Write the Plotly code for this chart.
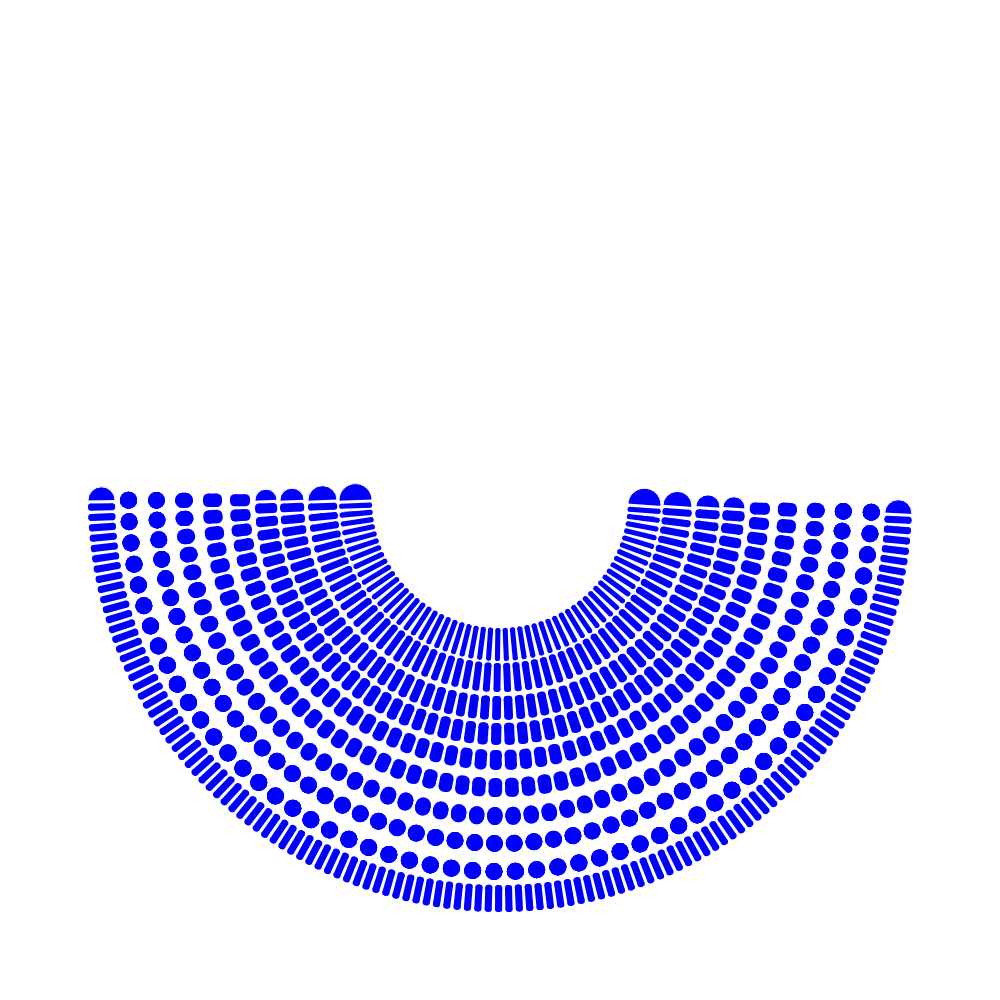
import math
import plotly.graph_objects as go

# ---- data (radial values in axis units) ----
ring_inner = [128, 163, 196, 223, 250, 278, 307, 335, 363, 385]
ring_outer = [161, 192, 220, 245, 270, 297, 325, 352, 380, 412]
ring_counts = [55, 55, 55, 55, 55, 55, 55, 55, 55, 122]
theta_left_end = 180.05
theta_right_end = 358.1

BLUE = "#0000ff"
GAP_PX = 3.0
CAP_MIN_EXCESS = 10
SECTOR = [178, 360]
R_PX = 420


def ring_layout(r_in, r_out, n):
    r_mid = (r_in + r_out) / 2
    h = r_out - r_in
    span = theta_right_end - theta_left_end
    step = span / (n - 1)
    w = min(r_mid * math.radians(step) - GAP_PX, h)
    cap = h - w > CAP_MIN_EXCESS
    off = 0.0
    for _ in range(4):
        off = math.degrees((w / 2 + GAP_PX) / r_mid) if cap else 0.0
        step = (span - 2 * off) / (n - 1)
        w = min(r_mid * math.radians(step) - GAP_PX, h)
    thetas = [theta_left_end + off + k * step for k in range(n)]
    return r_mid, h, w, cap, thetas


layouts = [ring_layout(a, b, n) for a, b, n in zip(ring_inner, ring_outer, ring_counts)]

common = dict(cliponaxis=False, hoverinfo="skip", showlegend=False)
fig = go.Figure()

# rounded end caps of the bar rings
cap_r, cap_t, cap_s = [], [], []
for (r_mid, h, w, cap, thetas) in layouts:
    if cap:
        cap_r += [r_mid, r_mid]
        cap_t += [theta_left_end, theta_right_end]
        cap_s += [h, h]
fig.add_trace(go.Scatterpolar(
    r=cap_r, theta=cap_t, mode="markers",
    marker=dict(color=BLUE, size=cap_s, symbol="circle", opacity=1), **common,
))

# white separators next to the caps
for r_in, r_out, (r_mid, h, w, cap, thetas) in zip(ring_inner, ring_outer, layouts):
    if not cap:
        continue
    rs, ts = [], []
    for t in (thetas[0], thetas[-1]):
        rs += [r_in - 1, r_out + 1, None]
        ts += [t, t, None]
    fig.add_trace(go.Scatterpolar(
        r=rs, theta=ts, mode="lines",
        line=dict(color="white", width=w + 2 * GAP_PX), **common,
    ))

# the ring elements: rounded rectangles (two crossing strips + corner discs)
for r_in, r_out, (r_mid, h, w, cap, thetas) in zip(ring_inner, ring_outer, layouts):
    if h - w < 5:
        c = min(w, h) / 2
    else:
        c = 0.38 * w
    ra, rb = r_in + c, r_out - c
    if rb - ra > 0.2:
        rs, ts = [], []
        for t in thetas:
            rs += [ra, rb, None]
            ts += [t, t, None]
        fig.add_trace(go.Scatterpolar(r=rs, theta=ts, mode="lines",
                                      line=dict(color=BLUE, width=w), **common))
    inner_w = w - 2 * c
    if inner_w > 0.2:
        rs, ts = [], []
        for t in thetas:
            rs += [r_in, r_out, None]
            ts += [t, t, None]
        fig.add_trace(go.Scatterpolar(r=rs, theta=ts, mode="lines",
                                      line=dict(color=BLUE, width=inner_w), **common))
    da = math.degrees((w / 2 - c) / ra)
    db = math.degrees((w / 2 - c) / rb)
    rs, ts = [], []
    for t in thetas:
        rs += [ra, ra, rb, rb]
        ts += [t - da, t + da, t - db, t + db]
    fig.add_trace(go.Scatterpolar(r=rs, theta=ts, mode="markers",
                                  marker=dict(color=BLUE, size=2 * c, symbol="circle", opacity=1),
                                  **common))

# fit the (slightly widened) sector so the centre sits at (500, 500) with radius 420 px
lift = math.sin(math.radians(180 - SECTOR[0]))
fig.update_layout(
    width=1000, height=1000,
    margin=dict(l=0, r=0, t=0, b=0),
    paper_bgcolor="white",
    polar=dict(
        domain=dict(x=[0.08, 0.92], y=[0.08, 0.5 + lift * R_PX / 1000]),
        sector=SECTOR,
        bgcolor="white",
        radialaxis=dict(range=[0, R_PX], visible=False),
        angularaxis=dict(visible=False),
    ),
)
fig.write_html("out.html")
